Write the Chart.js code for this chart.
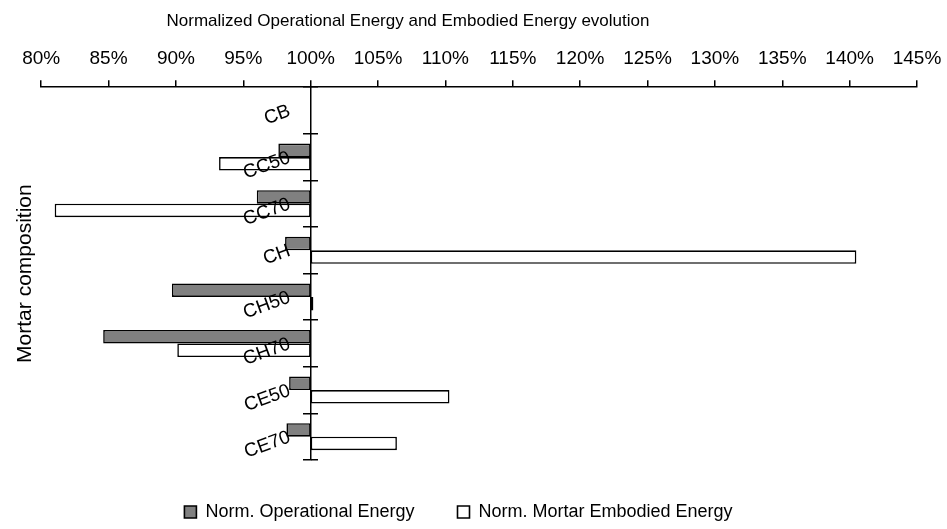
<!DOCTYPE html>
<html><head><meta charset="utf-8">
<script src="https://cdn.jsdelivr.net/npm/chart.js@4/dist/chart.umd.min.js"></script>
<style>html,body{margin:0;padding:0;background:#fff}canvas{display:block}</style>
</head><body>
<canvas id="c" width="947" height="529"></canvas>
<script>
// ---- data ----
const categories = ['CB', 'CC50', 'CC70', 'CH', 'CH50', 'CH70', 'CE50', 'CE70'];
const operationalEnergy = [100, 97.6, 96.0, 98.1, 89.7, 84.6, 98.4, 98.2];
const embodiedEnergy    = [100, 93.2, 81.0, 140.5, 100.2, 90.1, 110.3, 106.4];
const seriesNames = ['Norm. Operational Energy', 'Norm. Mortar Embodied Energy'];
const xMin = 80, xMax = 145, xStep = 5;
const baseValue = 100;
const chartTitle = 'Normalized Operational Energy and Embodied Energy evolution';
const yTitle = 'Mortar composition';

const FONT = "'Liberation Sans', Arial, sans-serif";
Chart.defaults.font.family = FONT;
Chart.defaults.font.size = 19;
Chart.defaults.color = '#000';

// centre the title where the original has it
const titleShift = {
  id: 'titleShift',
  afterLayout(chart) {
    const t = chart.titleBlock;
    if (t) { t.left = 0; t.right = 816; }
  }
};
// move the category labels (drawn by Chart.js) a little left of the 100% axis line
const labelShift = {
  id: 'labelShift',
  beforeDraw(chart) {
    const s = chart.scales.y;
    for (const it of s.getLabelItems()) {
      if (!it.__shifted) {
        const tr = it.options.translation;
        it.options.translation = [tr[0] - 21, tr[1]];
        it.__shifted = true;
      }
    }
  }
};

new Chart(document.getElementById('c'), {
  type: 'bar',
  data: {
    labels: categories,
    datasets: [
      { label: seriesNames[0], data: operationalEnergy.map(v => [baseValue, v]),
        backgroundColor: '#808080', borderColor: '#000', borderWidth: 1.6, borderSkipped: false },
      { label: seriesNames[1], data: embodiedEnergy.map(v => [baseValue, v]),
        backgroundColor: '#ffffff', borderColor: '#000', borderWidth: 1.6, borderSkipped: false }
    ]
  },
  plugins: [titleShift, labelShift],
  options: {
    indexAxis: 'y',
    responsive: false,
    animation: false,
    categoryPercentage: 0.58,
    barPercentage: 1.0,
    layout: { padding: { left: 0, right: 30, top: 0, bottom: -2 } },
    plugins: {
      title: { display: true, text: chartTitle, color: '#000',
               font: { size: 17, weight: 'normal' }, padding: { top: 11, bottom: 6 } },
      legend: { position: 'bottom',
                labels: { boxWidth: 12, boxHeight: 12, padding: 43, color: '#000', font: { size: 18 } } },
      tooltip: { enabled: false }
    },
    scales: {
      x: {
        type: 'linear', position: 'top', min: xMin, max: xMax,
        afterFit: s => { s.paddingRight = 0; },
        ticks: { stepSize: xStep, callback: v => v + '%', padding: 10, color: '#000', font: { size: 19 } },
        grid: { drawOnChartArea: false, tickLength: 7, color: '#000', lineWidth: 1.5 },
        border: { display: true, color: '#000', width: 1.5 }
      },
      y: {
        type: 'category', position: { x: baseValue }, offset: true,
        grid: { offset: true, drawOnChartArea: false, tickLength: 7, color: '#000', lineWidth: 1.5, z: 1 },
        border: { display: true, color: '#000', width: 1.5, z: 1 },
        ticks: { minRotation: 20, maxRotation: 20, padding: 0, autoSkip: false, color: '#000', font: { size: 19 }, z: 2 }
      },
      y2: {
        type: 'category', position: { x: baseValue }, offset: true,
        grid: { offset: true, drawOnChartArea: false, tickLength: -7, color: '#000', lineWidth: 1.5, z: 1 },
        border: { display: false },
        ticks: { display: false }
      },
      yT: {
        type: 'category', position: 'left', offset: true,
        grid: { display: false, drawTicks: false }, border: { display: false },
        ticks: { display: false },
        title: { display: true, text: yTitle, color: '#000', font: { size: 21 }, padding: { top: 13, bottom: 3 } }
      }
    }
  }
});
</script>
</body></html>
